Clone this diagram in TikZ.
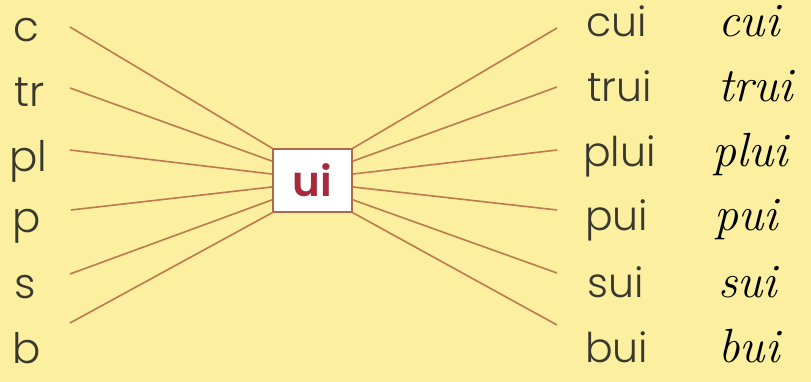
\documentclass[tikz,border=0pt]{standalone}
\usepackage{fontspec}
\IfFontExistsTF{Poppins Light}{\setmainfont{Poppins Light}[BoldFont=Poppins SemiBold]}{\setmainfont{Poppins}}
\usetikzlibrary{calc}
\newcommand{\cursfont}{\usefont{TU}{lmr}{m}{it}}
\definecolor{bg}{HTML}{FCEFA0}
\definecolor{ray}{HTML}{BC7A4E}
\definecolor{boxline}{HTML}{B06848}
\definecolor{uired}{HTML}{A52A3C}
\definecolor{ink}{HTML}{38382E}
\begin{document}
\begin{tikzpicture}[x=1pt,y=-1pt,
  letter/.style={anchor=base west,inner sep=0pt,text=ink,font=\fontsize{42}{42}\selectfont},
  word/.style={anchor=base west,inner sep=0pt,text=ink,font=\fontsize{41}{41}\selectfont},
  cursword/.style={anchor=base west,inner sep=0pt,text=black,font=\cursfont\fontsize{48}{48}\selectfont},
  centerbox/.style={draw=boxline,fill=white,line width=1.2pt,minimum width=79pt,minimum height=63pt,inner sep=0pt,text=uired,font=\bfseries\fontsize{42}{42}\selectfont},
  rayline/.style={draw=ray,line width=1.6pt}]
\fill[bg] (0,0) rectangle (811,382);
\useasboundingbox (0,0) rectangle (811,382);
\node[centerbox] (box) at (312.5,180.5) {ui};
% left letters
\node[letter] (c)  at (13,42)  {c};
\node[letter] (tr) at (14,107) {tr};
\node[letter] (pl) at (9,172) {pl};
\node[letter] (p)  at (12,233) {p};
\node[letter] (s)  at (14,298) {s};
\node[letter] (b)  at (12,363) {b};
% right words
\node[word] (cui)  at (586,37)  {cui};
\node[word] (trui) at (587,102) {trui};
\node[word] (plui) at (583,167) {plui};
\node[word] (pui)  at (585,230) {pui};
\node[word] (sui)  at (587,297) {sui};
\node[word] (bui)  at (585,362) {bui};
% cursive words
\node[cursword] (ccui)  at (718,37)  {cui};
\node[cursword] (ctrui) at (718,102) {trui};
\node[cursword] (cplui) at (712,167) {plui};
\node[cursword] (cpui)  at (714,230) {pui};
\node[cursword] (csui)  at (718,297) {sui};
\node[cursword] (cbui)  at (718,362) {bui};
% free ends of rays
\coordinate (L1) at (70,27);
\coordinate (L2) at (70,88);
\coordinate (L3) at (70,150);
\coordinate (L4) at (71,210);
\coordinate (L5) at (70,274);
\coordinate (L6) at (70,323);
\coordinate (R1) at (557,28);
\coordinate (R2) at (557,87);
\coordinate (R3) at (557,150);
\coordinate (R4) at (557,210);
\coordinate (R5) at (557,273);
\coordinate (R6) at (557,325);
% attachment points on box
\foreach \i/\t in {1/0,2/0.2,3/0.4,4/0.6,5/0.8,6/1}{
  \coordinate (BL\i) at ($(box.north west)!\t!(box.south west)$);
  \coordinate (BR\i) at ($(box.north east)!\t!(box.south east)$);
}
\foreach \i in {1,...,6}{
  \draw[rayline] (L\i) -- (BL\i);
  \draw[rayline] (BR\i) -- (R\i);
}
\end{tikzpicture}
\end{document}
